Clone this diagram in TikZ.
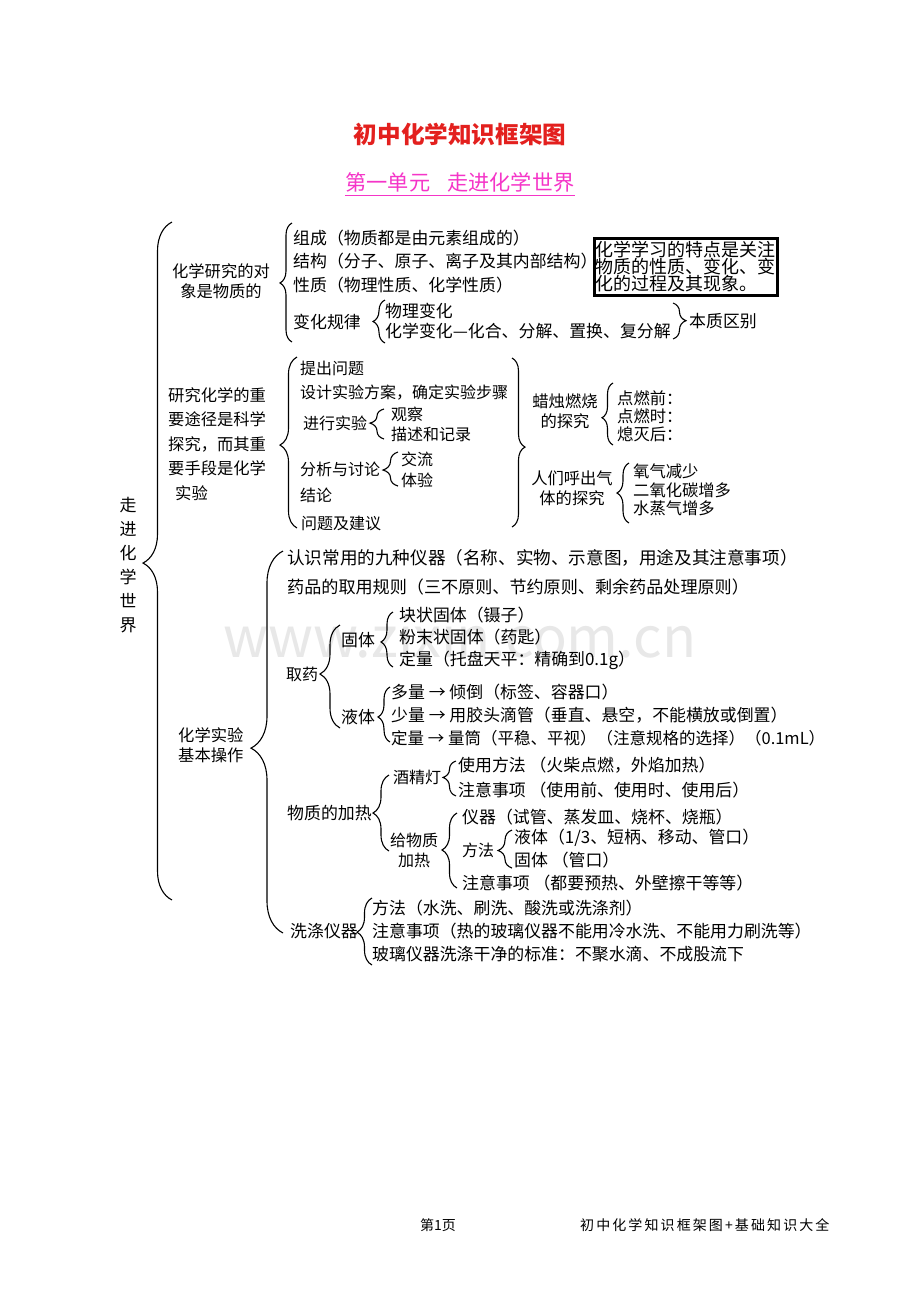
\documentclass[tikz,border=0pt]{standalone}
\usepackage{fontspec}
\setmainfont{Noto Sans CJK SC}
\usetikzlibrary{decorations.pathreplacing}
\newcommand\fsmain{\fontsize{16.9}{20}\selectfont}
\newcommand\fslab{\fontsize{16.3}{20}\selectfont}
\newcommand\fssmall{\fontsize{16}{20}\selectfont}
\definecolor{titlered}{HTML}{E3201E}
\definecolor{submag}{HTML}{F535C8}
\begin{document}
\begin{tikzpicture}[x=1pt,y=-1pt,
  txt/.style={anchor=west,inner sep=0pt,font=\fsmain},
  stxt/.style={anchor=west,inner sep=0pt,font=\fssmall},
  lab/.style={inner sep=0pt,font=\fslab,align=center},
  curly/.style={decorate,decoration={brace,amplitude=#1},line width=1.1pt},
  curlyat/.style 2 args={decorate,decoration={brace,amplitude=#1,aspect=#2},line width=1.1pt}]
\useasboundingbox (0,0) rectangle (920,1302);
\fill[white] (0,0) rectangle (920,1302);

% watermark
\node[inner sep=0pt,text=black!9,font=\fontsize{56}{56}\selectfont] (wm) at (460,636) {www.zixin.com.cn};

% titles
\node[inner sep=0pt,text=titlered,font=\fontsize{23.6}{26}\selectfont\bfseries] (title) at (460,134) {初中化学知识框架图};
\node[inner sep=0pt,text=submag,font=\fontsize{21.2}{24}\selectfont] (sub) at (460,182) {第一单元\hspace{0.8em}走进化学世界};
\draw[submag,line width=0.9pt] (sub.south west) ++(0,3) coordinate (ul1) -- (ul1 -| sub.south east) coordinate (ul2);

% root
\node[inner sep=0pt,font=\fontsize{17}{24}\selectfont,align=center] (root) at (128,565) {走\\进\\化\\学\\世\\界};
\coordinate (b0t) at (172,222); \coordinate (b0b) at (172,900);
\draw[curlyat={29pt}{0.497}] (b0b) -- (b0t);

% level 1
\node[lab] (obj) at (221,281) {化学研究的对\\象是物质的};
\node[anchor=north west,inner sep=0pt,font=\fslab,align=left] (way) at (168,387) {研究化学的重\\[4.5pt]要途径是科学\\[4.5pt]探究，而其重\\[4.5pt]要手段是化学\\[4.5pt]\hspace{7pt}实验};
\node[lab,align=left,anchor=west] (basic) at (178,745) {化学实验\\基本操作};

% group 1
\coordinate (b1t) at (292,223); \coordinate (b1b) at (292,342);
\draw[curlyat={12pt}{0.496}] (b1b) -- (b1t);
\node[txt] (c1) at (293,238) {组成（物质都是由元素组成的）};
\node[txt] (c2) at (293,261) {结构（分子、原子、离子及其内部结构）};
\node[txt] (c3) at (293,285) {性质（物理性质、化学性质）};
\node[txt] (c4) at (293,322) {变化规律};
\coordinate (b1at) at (385,300); \coordinate (b1ab) at (385,343);
\draw[curlyat={12pt}{0.5}] (b1ab) -- (b1at);
\node[txt] (c41) at (385,311) {物理变化};
\node[txt] (c42) at (385,331) {化学变化—化合、分解、置换、复分解};
\coordinate (b1ct) at (673,303); \coordinate (b1cb) at (673,339);
\draw[curlyat={13pt}{0.49}] (b1ct) -- (b1cb);
\node[txt] (ess) at (689,321) {本质区别};
\node[draw,line width=2.6pt,inner xsep=1.5pt,inner ysep=1pt,align=left,font=\fontsize{18}{17}\selectfont,minimum width=183pt,minimum height=57pt,anchor=north west] (box) at (593,237) {化学学习的特点是关注\\物质的性质、变化、变\\化的过程及其现象。};

% group 2
\coordinate (b2t) at (297,357); \coordinate (b2b) at (297,528);
\draw[curlyat={17pt}{0.485}] (b2b) -- (b2t);
\node[stxt] (d1) at (300,368) {提出问题};
\node[stxt] (d2) at (300,393) {设计实验方案，确定实验步骤};
\node[stxt] (d3) at (303,423) {进行实验};
\coordinate (b2at) at (384,409); \coordinate (b2ab) at (384,439);
\draw[curlyat={14pt}{0.53}] (b2ab) -- (b2at);
\node[stxt] (d31) at (391,414) {观察};
\node[stxt] (d32) at (391,434) {描述和记录};
\node[stxt] (d4) at (300,469) {分析与讨论};
\coordinate (b2bt) at (398,452); \coordinate (b2bb) at (398,486);
\draw[curlyat={15pt}{0.47}] (b2bb) -- (b2bt);
\node[stxt] (d41) at (401,459) {交流};
\node[stxt] (d42) at (401,480) {体验};
\node[stxt] (d5) at (300,495) {结论};
\node[stxt] (d6) at (301,523) {问题及建议};
\coordinate (b2ct) at (512,358); \coordinate (b2cb) at (512,527);
\draw[curlyat={13pt}{0.527}] (b2ct) -- (b2cb);

\node[lab] (candle) at (565,411) {蜡烛燃烧\\的探究};
\coordinate (b2dt) at (613,383); \coordinate (b2db) at (613,445);
\draw[curlyat={11pt}{0.44}] (b2db) -- (b2dt);
\node[txt,font=\fslab] (e1) at (617,398) {点燃前：};
\node[txt,font=\fslab] (e2) at (617,416) {点燃时：};
\node[txt,font=\fslab] (e3) at (617,434) {熄灭后：};
\node[lab] (breath) at (572,488) {人们呼出气\\体的探究};
\coordinate (b2et) at (629,463); \coordinate (b2eb) at (629,523);
\draw[curlyat={12pt}{0.5}] (b2eb) -- (b2et);
\node[txt,font=\fslab] (f1) at (633,471) {氧气减少};
\node[txt,font=\fslab] (f2) at (633,490) {二氧化碳增多};
\node[txt,font=\fslab] (f3) at (633,508) {水蒸气增多};

% group 3
\coordinate (b3t) at (283,551); \coordinate (b3b) at (283,933);
\draw[curlyat={32pt}{0.484}] (b3b) -- (b3t);
\node[txt,font=\fontsize{17.6}{20}\selectfont] (g1) at (287,558) {认识常用的九种仪器（名称、实物、示意图，用途及其注意事项）};
\node[txt,font=\fontsize{17.1}{20}\selectfont] (g2) at (287,587) {药品的取用规则（三不原则、节约原则、剩余药品处理原则）};
\node[stxt] (g3) at (286,674) {取药};
\coordinate (b3at) at (340,625); \coordinate (b3ab) at (340,728);
\draw[curlyat={20pt}{0.524}] (b3ab) -- (b3at);
\node[txt] (g31) at (341,640) {固体};
\coordinate (b3bt) at (393,612); \coordinate (b3bb) at (393,667);
\draw[curlyat={12pt}{0.455}] (b3bb) -- (b3bt);
\node[txt] (g311) at (399,615) {块状固体（镊子）};
\node[txt] (g312) at (399,637) {粉末状固体（药匙）};
\node[txt] (g313) at (399,660) {定量（托盘天平：精确到0.1g）};
\node[txt] (g32) at (341,717) {液体};
\coordinate (b3ct) at (390,687); \coordinate (b3cb) at (390,742);
\draw[curlyat={12pt}{0.455}] (b3cb) -- (b3ct);
\node[txt] (g321) at (391,692) {多量 → 倾倒（标签、容器口）};
\node[txt] (g322) at (391,715) {少量 → 用胶头滴管（垂直、悬空，不能横放或倒置）};
\node[txt,font=\fontsize{16.5}{20}\selectfont] (g323) at (391,738) {定量 → 量筒（平稳、平视）（注意规格的选择）（0.1mL）};
\node[txt] (g4) at (287,813) {物质的加热};
\coordinate (b3dt) at (389,775); \coordinate (b3db) at (389,851);
\draw[curlyat={16pt}{0.5}] (b3db) -- (b3dt);
\node[stxt] (g41) at (393,777) {酒精灯};
\coordinate (b3et) at (456,761); \coordinate (b3eb) at (456,796);
\draw[curlyat={13pt}{0.53}] (b3eb) -- (b3et);
\node[txt] (g411) at (458,765) {使用方法 （火柴点燃，外焰加热）};
\node[txt] (g412) at (458,790) {注意事项 （使用前、使用时、使用后）};
\node[lab,font=\fssmall] (g42) at (414,850) {给物质\\加热};
\coordinate (b3ft) at (457,813); \coordinate (b3fb) at (457,888);
\draw[curlyat={15pt}{0.507}] (b3fb) -- (b3ft);
\node[txt] (g421) at (462,817) {仪器（试管、蒸发皿、烧杯、烧瓶）};
\node[stxt] (g422) at (462,850) {方法};
\coordinate (b3gt) at (512,830); \coordinate (b3gb) at (512,868);
\draw[curlyat={14pt}{0.46}] (b3gb) -- (b3gt);
\node[txt] (g4221) at (514,838) {液体（1/3、短柄、移动、管口）};
\node[txt] (g4222) at (514,860) {固体 （管口）};
\node[txt] (g423) at (462,883) {注意事项 （都要预热、外壁擦干等等）};
\node[txt] (g5) at (290,931) {洗涤仪器};
\coordinate (b3ht) at (372,898); \coordinate (b3hb) at (372,965);
\draw[curlyat={15pt}{0.49}] (b3hb) -- (b3ht);
\node[txt] (g51) at (372,908) {方法（水洗、刷洗、酸洗或洗涤剂）};
\node[txt] (g52) at (372,931) {注意事项（热的玻璃仪器不能用冷水洗、不能用力刷洗等）};
\node[txt] (g53) at (372,954) {玻璃仪器洗涤干净的标准：不聚水滴、不成股流下};

% footer
\node[txt,font=\fontsize{14}{16}\selectfont] (pg) at (420,1225) {第1页};
\node[txt,font=\fontsize{14}{16}\selectfont\addfontfeature{LetterSpace=15}] (ft) at (580,1225) {初中化学知识框架图+基础知识大全};
\end{tikzpicture}
\end{document}
